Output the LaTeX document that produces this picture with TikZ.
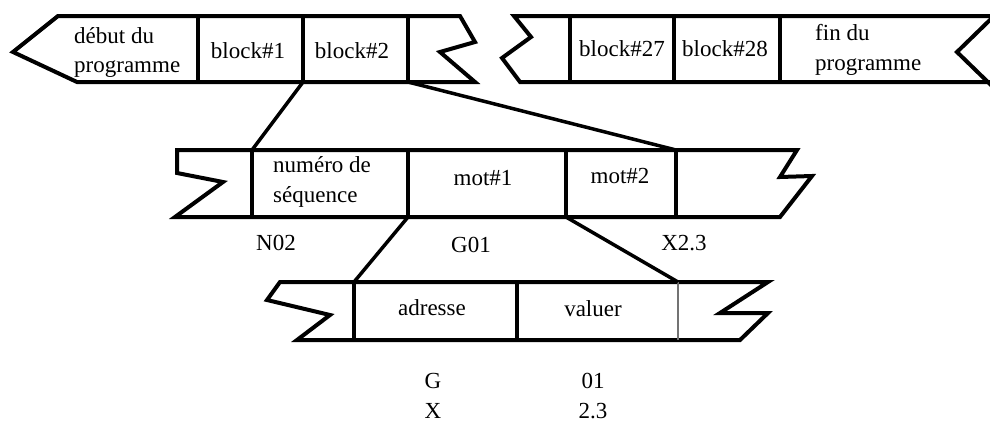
\documentclass[tikz,border=0pt]{standalone}
\usepackage{fontspec}
\setmainfont{Liberation Serif}
\begin{document}
\begin{tikzpicture}[x=1pt,y=-1pt,
  strip/.style={line width=4pt, line join=miter, miter limit=4},
  divider/.style={line width=4pt},
  thindiv/.style={line width=2pt, black!55},
  conn/.style={line width=3.5pt},
  lbl/.style={inner sep=0pt, anchor=base, font=\fontsize{23}{28}\selectfont},
  lbll/.style={lbl, anchor=base west}]
\useasboundingbox (0,0) rectangle (990,421);

% ---- top strip, left part ----
\draw[strip] (58,16) -- (460,16) -- (475,42) -- (440,52) -- (475,82) -- (77,82) -- (13,52) -- cycle;
\coordinate (t1a) at (198,16); \coordinate (t1ab) at (198,82);
\coordinate (b2tl) at (303,16); \coordinate (b2bl) at (303,82);
\coordinate (b2tr) at (408,16); \coordinate (b2br) at (408,82);
\draw[divider] (t1a) -- (t1ab);
\draw[divider] (b2tl) -- (b2bl);
\draw[divider] (b2tr) -- (b2br);
\node[lbll] (deb1) at (74,43) {début du};
\node[lbll] (deb2) at (74,72) {programme};
\node[lbl] (blk1) at (248,58) {block\#1};
\node[lbl] (blk2) at (352,58) {block\#2};

% ---- top strip, right part ----
\draw[strip] (994,16) -- (514,16) -- (531,37) -- (502,58) -- (520,82) -- (994,82);
\draw[strip] (994,16) -- (957,52) -- (994,88);
\coordinate (t2a) at (570,16); \coordinate (t2ab) at (570,82);
\coordinate (t2b) at (674,16); \coordinate (t2bb) at (674,82);
\coordinate (t2c) at (780,16); \coordinate (t2cb) at (780,82);
\draw[divider] (t2a) -- (t2ab);
\draw[divider] (t2b) -- (t2bb);
\draw[divider] (t2c) -- (t2cb);
\node[lbl] (blk27) at (622,56) {block\#27};
\node[lbl] (blk28) at (725,56) {block\#28};
\node[lbll] (fin1) at (815,40) {fin du};
\node[lbll] (fin2) at (815,70) {programme};

% ---- middle strip ----
\draw[strip] (177,150) -- (797,150) -- (780,177) -- (812,176) -- (780,217) -- (175,217) -- (223,182) -- (177,173) -- cycle;
\coordinate (seqt) at (252,150); \coordinate (seqb) at (252,217);
\coordinate (m1t) at (408,150); \coordinate (m1bl) at (408,217);
\coordinate (m2t) at (566,150); \coordinate (m1br) at (566,217);
\coordinate (m2et) at (676,150); \coordinate (m2eb) at (676,217);
\draw[divider] (seqt) -- (seqb);
\draw[divider] (m1t) -- (m1bl);
\draw[divider] (m2t) -- (m1br);
\draw[divider] (m2et) -- (m2eb);
\node[lbll] (seq1) at (273,172) {numéro de};
\node[lbll] (seq2) at (273,202) {séquence};
\node[lbl] (mot1) at (483,185) {mot\#1};
\node[lbl] (mot2) at (620,183) {mot\#2};
\node[lbl] (n02) at (276,250) {N02};
\node[lbl] (g01) at (471,252) {G01};
\node[lbl] (x23) at (684,250) {X2.3};

% ---- bottom strip ----
\draw[strip] (280,282) -- (768,282) -- (720,313) -- (768,313) -- (740,340) -- (297,340) -- (330,315) -- (267,300) -- cycle;
\coordinate (adrt) at (354,282); \coordinate (adrb) at (354,340);
\coordinate (valt) at (517,282); \coordinate (valb) at (517,340);
\coordinate (vale) at (678,282); \coordinate (valeb) at (678,340);
\draw[divider] (adrt) -- (adrb);
\draw[divider] (valt) -- (valb);
\draw[thindiv] (vale) -- (valeb);
\node[lbl] (adr) at (432,315) {adresse};
\node[lbl] (val) at (593,316) {valuer};
\node[lbl] (g) at (433,388) {G};
\node[lbl] (v01) at (593,388) {01};
\node[lbl] (x) at (433,418) {X};
\node[lbl] (v23) at (593,418) {2.3};

% ---- connectors ----
\draw[conn] (b2bl) -- (seqt);
\draw[conn] (b2br) -- (m2et);
\draw[conn] (m1bl) -- (adrt);
\draw[conn] (m1br) -- (vale);
\end{tikzpicture}
\end{document}
